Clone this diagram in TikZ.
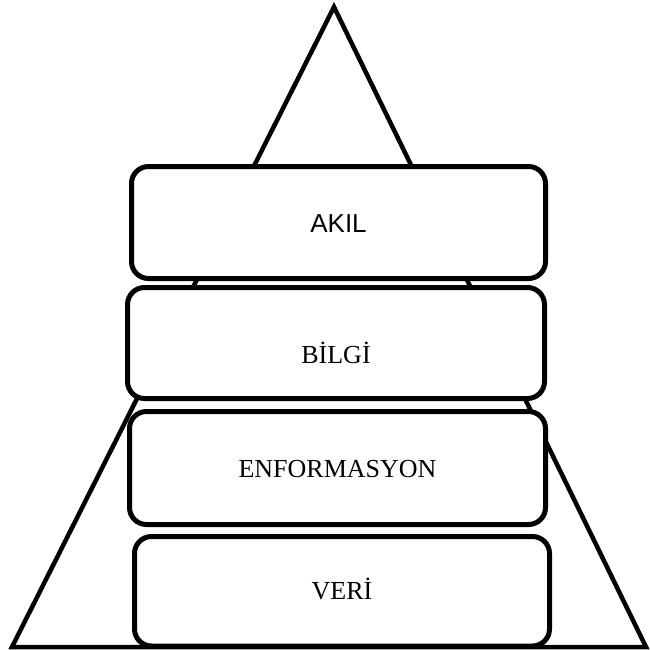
\documentclass[tikz,border=0pt]{standalone}
\usepackage{fontspec}
\setmainfont{Liberation Serif}
\newfontfamily\akilfont{Liberation Sans}
\begin{document}
\begin{tikzpicture}[x=1pt,y=-1pt,
  level/.style={draw=black, line width=5pt, rounded corners=17pt, fill=white,
    inner sep=0pt, outer sep=0pt},
  serifcaption/.style={anchor=base, inner sep=0pt, font=\fontsize{26}{30}\selectfont},
  sanscaption/.style={anchor=base, inner sep=0pt, font=\akilfont\fontsize{26}{30}\selectfont}]
\useasboundingbox (0,0) rectangle (649,650);

% pyramid outline behind the levels
\coordinate (apex) at (334,7);
\coordinate (bl) at (12,647);
\coordinate (br) at (646,647);
\draw[line width=4.5pt, line join=miter] (apex) -- (bl) -- (br) -- cycle;

% stacked levels
\node[level, minimum width=414pt, minimum height=112pt] (akil) at (338.5,222.5) {};
\node[level, minimum width=417pt, minimum height=111pt] (bilgi) at (336,343) {};
\node[level, minimum width=416pt, minimum height=113pt] (enf) at (337.5,468) {};
\node[level, minimum width=415pt, minimum height=109.5pt] (veri) at (342,591.25) {};

% level captions
\node[sanscaption] (akilt) at (338.5,232) {AKIL};
\node[serifcaption] (bilgit) at (336,363) {BİLGİ};
\node[serifcaption] (enft) at (337.5,477) {ENFORMASYON};
\node[serifcaption] (verit) at (342,599) {VERİ};
\end{tikzpicture}
\end{document}
